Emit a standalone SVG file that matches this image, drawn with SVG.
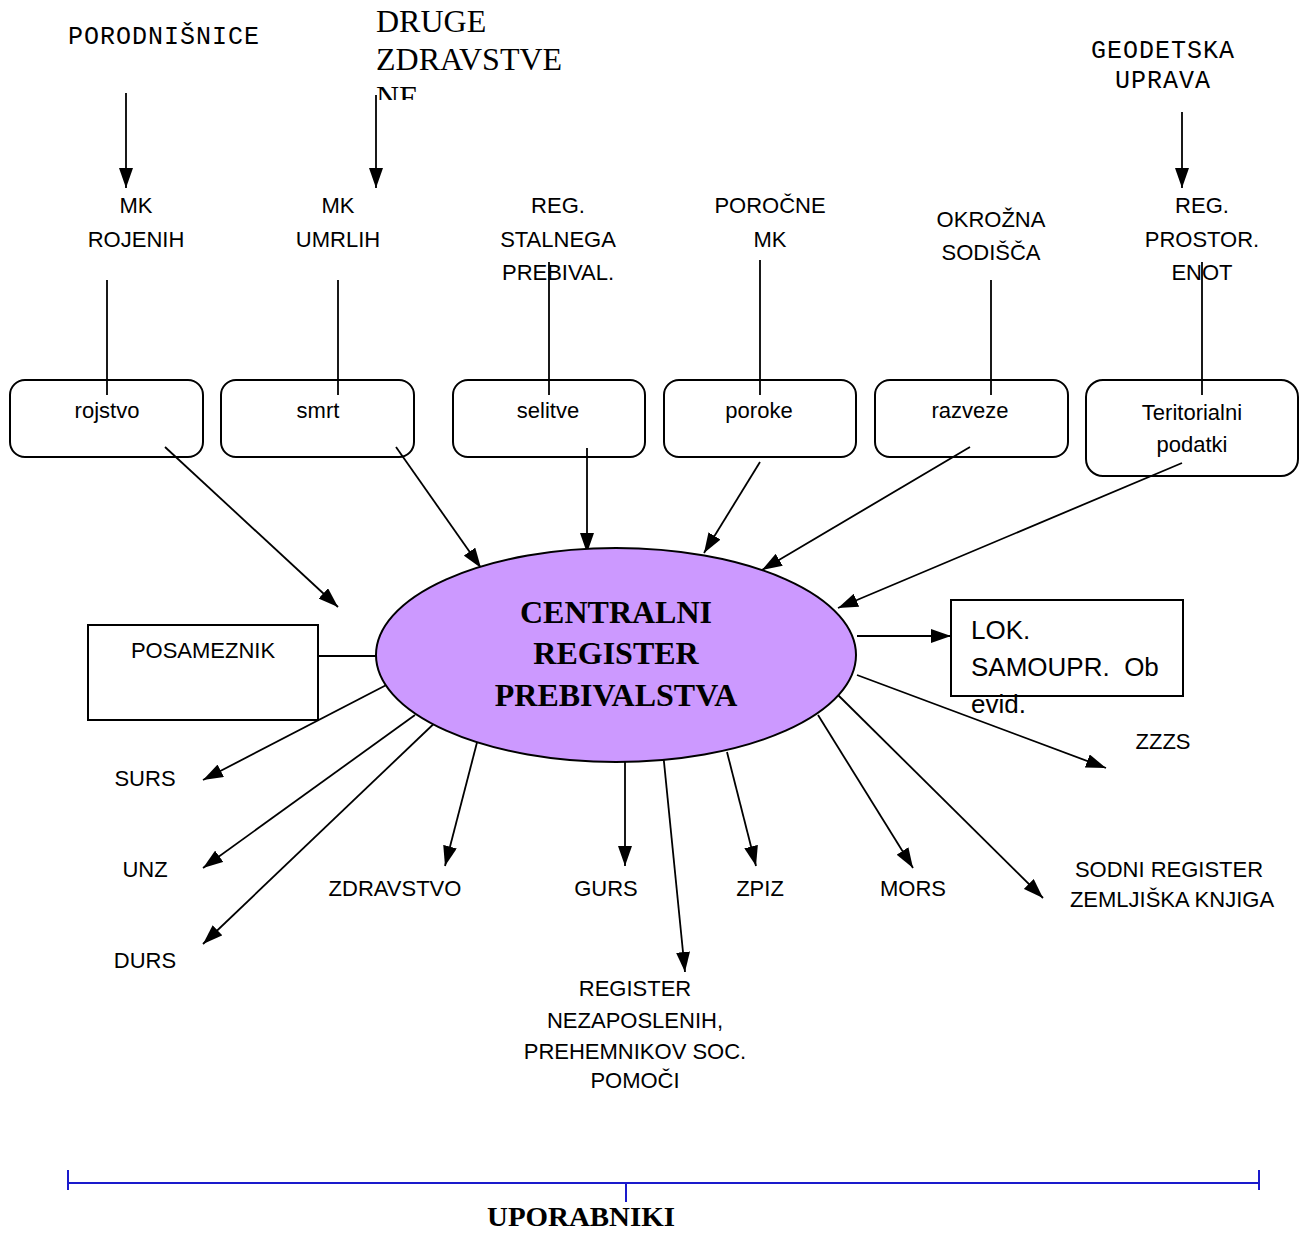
<svg xmlns="http://www.w3.org/2000/svg" width="1306" height="1234" viewBox="0 0 1306 1234">
<style>
.lbl{font-family:"Liberation Sans",Arial,sans-serif;font-size:22px;fill:#000;text-anchor:middle}
.mono{font-family:"Liberation Mono","Courier New",monospace;font-size:25px;letter-spacing:1px;fill:#000;text-anchor:middle}
.box{fill:#fff;stroke:#000;stroke-width:2}
.ln{stroke:#000;stroke-width:1.8;fill:none}
.arr{stroke:#000;stroke-width:1.8;fill:none;marker-end:url(#ah)}
.blue{stroke:#1a1acc;stroke-width:2;fill:none}
</style>
<defs>
<marker id="ah" viewBox="0 0 20 14" refX="20" refY="7" markerWidth="20" markerHeight="14" orient="auto" markerUnits="userSpaceOnUse">
<path d="M0,0 L20,7 L0,14 z" fill="#000"/>
</marker>
<clipPath id="clipDruge"><rect x="370" y="0" width="240" height="100"/></clipPath>
</defs>
<rect width="1306" height="1234" fill="#fff"/>

<g id="connectors">
<line class="arr" x1="126" y1="93" x2="126" y2="188"/>
<line class="arr" x1="376" y1="95" x2="376" y2="188"/>
<line class="arr" x1="1182" y1="112" x2="1182" y2="188"/>
<line class="ln" x1="107" y1="280" x2="107" y2="395"/>
<line class="ln" x1="338" y1="280" x2="338" y2="395"/>
<line class="ln" x1="549" y1="262" x2="549" y2="395"/>
<line class="ln" x1="760" y1="260" x2="760" y2="395"/>
<line class="ln" x1="991" y1="280" x2="991" y2="395"/>
<line class="ln" x1="1202" y1="262" x2="1202" y2="395"/>
<line class="arr" x1="165" y1="447" x2="338" y2="607"/>
<line class="arr" x1="396" y1="447" x2="481" y2="568"/>
<line class="arr" x1="587" y1="448" x2="587" y2="553"/>
<line class="arr" x1="760" y1="462" x2="704" y2="553"/>
<line class="arr" x1="970" y1="447" x2="762" y2="570"/>
<line class="arr" x1="1182" y1="463" x2="838" y2="608"/>
<line class="ln" x1="318" y1="656" x2="376" y2="656"/>
<line class="arr" x1="857" y1="636" x2="951" y2="636"/>
<line class="arr" x1="396" y1="680" x2="203" y2="780"/>
<line class="arr" x1="415" y1="715" x2="203" y2="868"/>
<line class="arr" x1="443" y1="715" x2="203" y2="944"/>
<line class="arr" x1="481" y1="727" x2="445" y2="866"/>
<line class="arr" x1="625" y1="752" x2="625" y2="866"/>
<line class="arr" x1="663" y1="752" x2="685" y2="972"/>
<line class="arr" x1="727" y1="752" x2="756" y2="866"/>
<line class="arr" x1="818" y1="715" x2="913" y2="868"/>
<line class="arr" x1="838" y1="695" x2="1043" y2="898"/>
<line class="arr" x1="857" y1="675" x2="1106" y2="768"/>
</g>

<g id="porodnisnice"><text class="mono" x="164" y="44">PORODNIŠNICE</text></g>
<g id="druge" clip-path="url(#clipDruge)">
<text font-family="'Liberation Serif','Times New Roman',serif" font-size="32" x="376" y="32">DRUGE</text>
<text font-family="'Liberation Serif','Times New Roman',serif" font-size="32" x="376" y="70">ZDRAVSTVE</text>
<text font-family="'Liberation Serif','Times New Roman',serif" font-size="32" x="376" y="108">NE</text>
</g>
<g id="geodetska"><text class="mono" x="1163" y="58">GEODETSKA</text><text class="mono" x="1163" y="88">UPRAVA</text></g>

<g id="mk-rojenih"><text class="lbl" x="136" y="213">MK</text><text class="lbl" x="136" y="247">ROJENIH</text></g>
<g id="mk-umrlih"><text class="lbl" x="338" y="213">MK</text><text class="lbl" x="338" y="247">UMRLIH</text></g>
<g id="reg-stalnega"><text class="lbl" x="558" y="213">REG.</text><text class="lbl" x="558" y="247">STALNEGA</text><text class="lbl" x="558" y="280">PREBIVAL.</text></g>
<g id="porocne-mk"><text class="lbl" x="770" y="213">POROČNE</text><text class="lbl" x="770" y="247">MK</text></g>
<g id="okrozna"><text class="lbl" x="991" y="227">OKROŽNA</text><text class="lbl" x="991" y="260">SODIŠČA</text></g>
<g id="reg-prostor"><text class="lbl" x="1202" y="213">REG.</text><text class="lbl" x="1202" y="247">PROSTOR.</text><text class="lbl" x="1202" y="280">ENOT</text></g>

<g id="rojstvo"><rect class="box" x="10" y="380" width="193" height="77" rx="15" fill-opacity="0"/><text class="lbl" x="107" y="418">rojstvo</text></g>
<g id="smrt"><rect class="box" x="221" y="380" width="193" height="77" rx="15" fill-opacity="0"/><text class="lbl" x="318" y="418">smrt</text></g>
<g id="selitve"><rect class="box" x="453" y="380" width="192" height="77" rx="15" fill-opacity="0"/><text class="lbl" x="548" y="418">selitve</text></g>
<g id="poroke"><rect class="box" x="664" y="380" width="192" height="77" rx="15" fill-opacity="0"/><text class="lbl" x="759" y="418">poroke</text></g>
<g id="razveze"><rect class="box" x="875" y="380" width="193" height="77" rx="15" fill-opacity="0"/><text class="lbl" x="970" y="418">razveze</text></g>
<g id="teritorialni"><rect class="box" x="1086" y="380" width="212" height="96" rx="17" fill-opacity="0"/><text class="lbl" x="1192" y="420">Teritorialni</text><text class="lbl" x="1192" y="452">podatki</text></g>

<g id="crp">
<ellipse cx="616" cy="655" rx="240" ry="107" fill="#cc99ff" stroke="#000" stroke-width="2"/>
<g font-family="'Liberation Serif','Times New Roman',serif" font-size="32" font-weight="bold" text-anchor="middle">
<text x="616" y="623">CENTRALNI</text>
<text x="616" y="664">REGISTER</text>
<text x="616" y="706">PREBIVALSTVA</text>
</g>
</g>

<g id="posameznik"><rect class="box" x="88" y="625" width="230" height="95"/><text class="lbl" x="203" y="658">POSAMEZNIK</text></g>
<g id="lok"><rect class="box" x="951" y="600" width="232" height="96"/>
<g font-family="'Liberation Sans',Arial,sans-serif" font-size="26"><text x="971" y="639">LOK.</text><text x="971" y="676" xml:space="preserve">SAMOUPR.  Ob</text><text x="971" y="713">evid.</text></g></g>

<g id="surs"><text class="lbl" x="145" y="786">SURS</text></g>
<g id="unz"><text class="lbl" x="145" y="877">UNZ</text></g>
<g id="durs"><text class="lbl" x="145" y="968">DURS</text></g>
<g id="zdravstvo"><text class="lbl" x="395" y="896">ZDRAVSTVO</text></g>
<g id="gurs"><text class="lbl" x="606" y="896">GURS</text></g>
<g id="zpiz"><text class="lbl" x="760" y="896">ZPIZ</text></g>
<g id="mors"><text class="lbl" x="913" y="896">MORS</text></g>
<g id="sodni"><text class="lbl" x="1169" y="877">SODNI REGISTER</text><text class="lbl" x="1172" y="907">ZEMLJIŠKA KNJIGA</text></g>
<g id="zzzs"><text class="lbl" x="1163" y="749">ZZZS</text></g>
<g id="register-nezaposlenih">
<text class="lbl" x="635" y="996">REGISTER</text>
<text class="lbl" x="635" y="1028">NEZAPOSLENIH,</text>
<text class="lbl" x="635" y="1059">PREHEMNIKOV SOC.</text>
<text class="lbl" x="635" y="1088">POMOČI</text>
</g>

<g id="uporabniki">
<line class="blue" x1="68" y1="1183" x2="1259" y2="1183"/>
<line class="blue" x1="68" y1="1170" x2="68" y2="1190"/>
<line class="blue" x1="1259" y1="1170" x2="1259" y2="1190"/>
<line class="blue" x1="626" y1="1183" x2="626" y2="1202" stroke-width="1.5"/>
<text font-family="'Liberation Serif','Times New Roman',serif" font-size="27" font-weight="bold" text-anchor="middle" x="581" y="1226" textLength="188" lengthAdjust="spacingAndGlyphs">UPORABNIKI</text>
</g>
</svg>
